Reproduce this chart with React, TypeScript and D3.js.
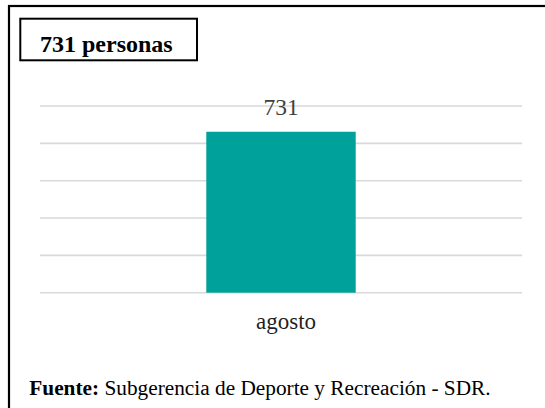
import * as d3 from "d3";

// data
const categories = ["agosto"];
const values = [731];
const yTicks = [300, 400, 500, 600, 700, 800];
const titleText = "731 personas";
const sourceLabel = "Fuente:";
const sourceText = "Subgerencia de Deporte y Recreación - SDR.";

export default function App({
  width = 545,
  height = 408,
  marginTop = 106,
  marginBottom = 115.3,
  marginLeft = 40,
  marginRight = 23,
}) {
  const font = '"Liberation Serif", Tinos, "Times New Roman", Times, "DejaVu Serif", serif';

  // x scale : a single band, Excel style gap
  const xScale = d3
    .scaleBand()
    .domain(categories)
    .range([marginLeft, width - marginRight])
    .paddingInner(0.69)
    .paddingOuter(0.345);

  // y scale, axis starts at 300 like the source chart
  const yScale = d3
    .scaleLinear()
    .domain([yTicks[0], yTicks[yTicks.length - 1]])
    .range([height - marginBottom, marginTop]);

  return (
    <svg
      width={width}
      height={height}
      style={{ position: "absolute", left: 0, top: 0, background: "#fff", fontFamily: font }}
    >
      {/* outer frame, only top and left fall inside the picture */}
      <rect x={9} y={6} width={width + 20} height={height + 20} fill="#fff" stroke="#000" strokeWidth={2.2} />

      {/* title box */}
      <rect x={20.3} y={18.7} width={176.7} height={41.6} fill="#fff" stroke="#000" strokeWidth={2} />
      <text x={40} y={51.7} style={{ fontFamily: font }} fontSize={24} fontWeight="bold" fill="#000">
        {titleText}
      </text>

      {/* gridlines */}
      <g stroke="#d9d9d9" strokeWidth={1.6}>
        {yTicks.map((t) => (
          <line key={t} x1={marginLeft} x2={width - marginRight} y1={yScale(t)} y2={yScale(t)} />
        ))}
      </g>

      {/* bars */}
      {categories.map((c, i) => (
        <rect
          key={c}
          x={xScale(c)}
          y={yScale(values[i])}
          width={xScale.bandwidth()}
          height={yScale(yTicks[0]) - yScale(values[i])}
          fill="#00a19a"
        />
      ))}

      {/* value labels */}
      {categories.map((c, i) => (
        <text
          key={c}
          x={xScale(c)! + xScale.bandwidth() / 2}
          y={yScale(values[i]) - 16.5}
          textAnchor="middle"
          style={{ fontFamily: font }}
          fontSize={23.5}
          fill="#404040"
        >
          {values[i]}
        </text>
      ))}

      {/* category labels */}
      {categories.map((c) => (
        <text
          key={c}
          x={xScale(c)! + xScale.bandwidth() / 2}
          dx={5}
          y={yScale(yTicks[0]) + 36.6}
          textAnchor="middle"
          style={{ fontFamily: font }}
          fontSize={23}
          fill="#1f1f1f"
        >
          {c}
        </text>
      ))}

      {/* source note */}
      <text x={29.3} y={395} style={{ fontFamily: font }} fontSize={21.3} fill="#000">
        <tspan fontWeight="bold">{sourceLabel}</tspan>
        <tspan> {sourceText}</tspan>
      </text>
    </svg>
  );
}
